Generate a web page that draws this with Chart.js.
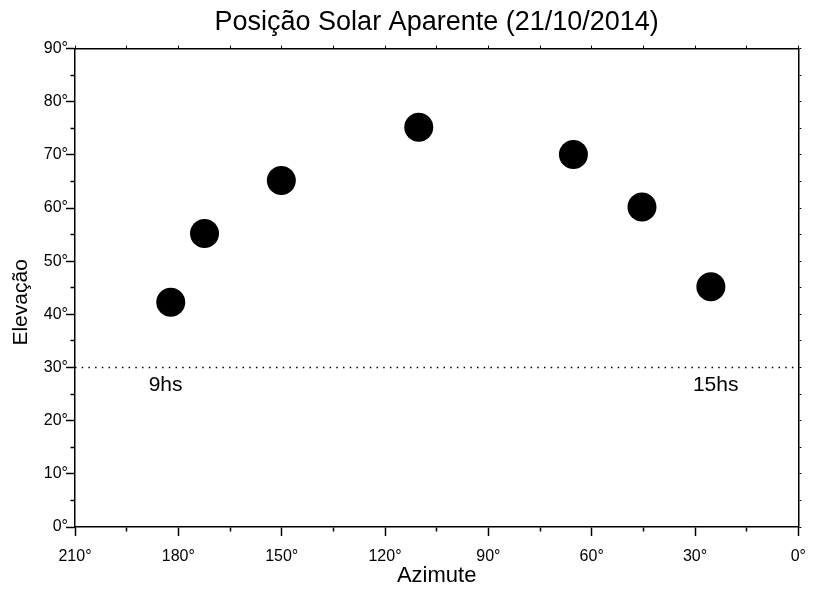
<!DOCTYPE html>
<html>
<head>
<meta charset="utf-8">
<script src="https://cdn.jsdelivr.net/npm/chart.js@4/dist/chart.umd.min.js"></script>
<style>
  html, body { margin: 0; padding: 0; background: #fff; }
  #wrap { width: 817px; height: 589px; }
</style>
</head>
<body>
<div id="wrap"><canvas id="sun"></canvas></div>
<script>
// Sun positions (azimuth, elevation in degrees)
var azimuth = [182.2, 172.4, 150.1, 110.2, 65.3, 45.4, 25.4];
var elevation = [42.3, 55.2, 65.2, 75.2, 70.1, 60.2, 45.2];

// axis ranges and labelled ticks
var azMin = 0, azMax = 210;
var elMin = 0, elMax = 90;
var azimuthTicks = [0, 30, 60, 90, 120, 150, 180, 210];
var elevationTicks = [0, 10, 20, 30, 40, 50, 60, 70, 80, 90];

// dotted horizon line and hour notes
var horizonElevation = 30;
var hourLabels = ['9hs', '15hs'];
var hourLabelAz = [183.7, 24.0];
var hourLabelEl = [25.5, 25.5];

Chart.defaults.font.family = "'Liberation Sans', Arial, Helvetica, sans-serif";
Chart.defaults.color = '#000';

/**
 * Writes the hour notes under the dotted line
 */
var hourNotes = {
    id: 'hourNotes',
    afterDatasetsDraw: function (chart) {
        let ctx = chart.ctx,
            xs = chart.scales.x,
            ys = chart.scales.y;
        ctx.save();
        ctx.fillStyle = '#000';
        ctx.font = "21px 'Liberation Sans', Arial, sans-serif";
        ctx.textAlign = 'center';
        ctx.textBaseline = 'alphabetic';
        hourLabels.forEach(function (txt, i) {
            ctx.fillText(txt, xs.getPixelForValue(hourLabelAz[i]), ys.getPixelForValue(hourLabelEl[i]));
        });
        ctx.restore();
    }
};

var points = azimuth.map((a, i) => ({ x: a, y: elevation[i] }));

new Chart(document.getElementById('sun'), {
    type: 'scatter',
    data: {
        datasets: [{
            data: points,
            backgroundColor: '#000',
            borderColor: '#000',
            borderWidth: 0,
            pointRadius: 14.5,
            pointHoverRadius: 14.5
        }, {
            type: 'line',
            data: [{ x: azMax, y: horizonElevation }, { x: azMin, y: horizonElevation }],
            borderColor: '#000',
            borderWidth: 1.5,
            borderDash: [1.5, 5.2],
            pointRadius: 0,
            fill: false
        }]
    },
    options: {
        responsive: true,
        maintainAspectRatio: false,
        animation: false,
        events: [],
        layout: { padding: { left: 0, right: 13, top: 0, bottom: 0 } },
        plugins: {
            legend: { display: false },
            tooltip: { enabled: false },
            title: {
                display: true,
                text: 'Posição Solar Aparente (21/10/2014)',
                fullSize: false,
                font: { size: 27, weight: 'normal' },
                padding: { top: 6.5, bottom: 6.7 }
            }
        },
        scales: {
            x: {
                type: 'linear',
                position: 'bottom',
                reverse: true,
                min: azMin,
                max: azMax,
                afterFit: function (s) { s.height = 62; },
                border: { color: '#000', width: 1.5 },
                grid: {
                    drawOnChartArea: false,
                    tickLength: 9,
                    tickWidth: 1.5,
                    tickColor: '#000',
                    tickBorderDash: c => azimuthTicks.includes(c.tick.value) ? [] : [4, 100]
                },
                ticks: {
                    stepSize: 15,
                    autoSkip: false,
                    maxRotation: 0,
                    padding: 11,
                    font: { size: 16 },
                    callback: v => azimuthTicks.includes(v) ? v + '°' : ''
                },
                title: {
                    display: true,
                    text: 'Azimute',
                    font: { size: 22 },
                    padding: { top: 0, bottom: 0 }
                }
            },
            x2: {
                type: 'linear',
                position: 'top',
                reverse: true,
                min: azMin,
                max: azMax,
                border: { color: '#000', width: 1.5 },
                grid: { drawOnChartArea: false, tickLength: 3, tickWidth: 1, tickColor: '#000' },
                ticks: { stepSize: 15, display: false }
            },
            y: {
                type: 'linear',
                position: 'left',
                min: elMin,
                max: elMax,
                afterFit: function (s) { s.width = 75; },
                border: { color: '#000', width: 1.5 },
                grid: {
                    drawOnChartArea: false,
                    tickLength: 9,
                    tickWidth: 1.5,
                    tickColor: '#000',
                    tickBorderDash: c => elevationTicks.includes(c.tick.value) ? [] : [0, 4.5, 4, 100]
                },
                ticks: {
                    stepSize: 5,
                    autoSkip: false,
                    padding: -2,
                    font: { size: 16 },
                    callback: v => elevationTicks.includes(v) ? v + '°' : ''
                },
                title: {
                    display: true,
                    // trailing spaces nudge the word down like the original
                    text: 'Elevação\u00a0\u00a0\u00a0\u00a0\u00a0',
                    font: { size: 21 },
                    padding: { top: 9, bottom: 0 }
                }
            },
            y2: {
                type: 'linear',
                position: 'right',
                min: elMin,
                max: elMax,
                border: { color: '#000', width: 1.5 },
                grid: { drawOnChartArea: false, tickLength: 3, tickWidth: 1, tickColor: '#000' },
                ticks: { stepSize: 5, display: false }
            }
        }
    },
    plugins: [hourNotes]
});
</script>
</body>
</html>
